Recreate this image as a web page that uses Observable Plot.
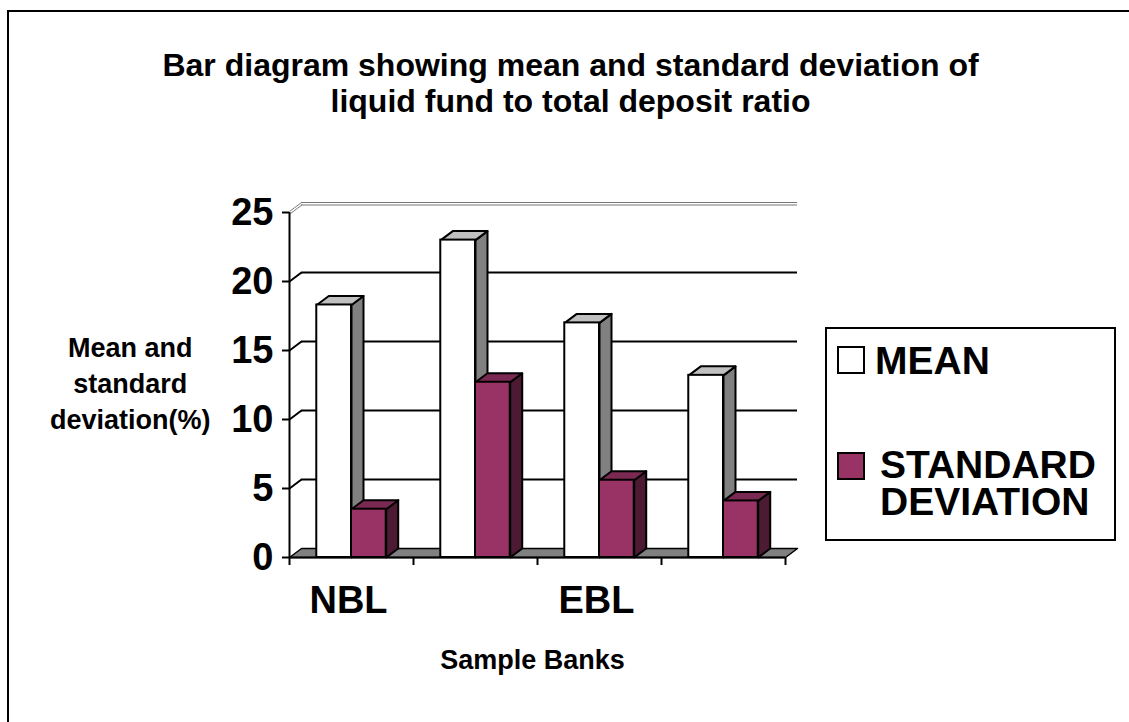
<!DOCTYPE html>
<html><head><meta charset="utf-8">
<script src="https://cdn.jsdelivr.net/npm/d3@7"></script>
<script src="https://cdn.jsdelivr.net/npm/@observablehq/plot@0.6"></script>
<style>
html,body{margin:0;padding:0;background:#fff;}
#wrap{position:relative;width:1129px;height:722px;overflow:hidden;background:#fff;}
#chart{position:absolute;left:0;top:0;}
#frame{position:absolute;left:7px;top:10px;width:1200px;height:800px;border-left:2px solid #000;border-top:2px solid #000;pointer-events:none;}
</style></head><body>
<div id="wrap"><div id="chart"></div><div id="frame"></div></div>
<script>
// ---- data ----
const banks = ["NBL", "Bank 2", "EBL", "Bank 4"];
const categoryLabels = ["NBL", "", "EBL", ""];
const meanValues = [18.3, 23.0, 17.0, 13.2];
const sdValues = [3.5, 12.7, 5.6, 4.1];
const seriesNames = ["MEAN", "STANDARD DEVIATION"];
const yTicks = [0, 5, 10, 15, 20, 25];
const titleText = "Bar diagram showing mean and standard deviation of\nliquid fund to total deposit ratio";
const yLabel = "Mean and\nstandard\ndeviation(%)";
const xLabel = "Sample Banks";

// ---- style / layout ----
const styles = [
  {front: "#ffffff", top: "#c0c0c0", side: "#808080"},
  {front: "#993366", top: "#7a2952", side: "#4d1a33"}
];
const n = banks.length;
const DX = 12 / 124, DY = 9 / 13.8;   // depth offset in scale units
const TICK = 8 / 13.8;                // x tick length in scale units
const barOff = [0.22, 0.5], barW = 0.28;
const seriesValues = [meanValues, sdValues];

const bars = [];
seriesValues.forEach((vals, s) => vals.forEach((v, i) => bars.push({bank: banks[i], i, s, v})));

function topFace(d) {
  const x0 = d.i + barOff[d.s], x1 = x0 + barW, v = d.v;
  return [[x0, v], [x1, v], [x1 + DX, v + DY], [x0 + DX, v + DY], [x0, v]]
    .map(([x, y]) => ({x, y, id: `t${d.s}-${d.i}`, s: d.s}));
}
function sideFace(d) {
  const x1 = d.i + barOff[d.s] + barW, v = d.v;
  return [[x1, v], [x1 + DX, v + DY], [x1 + DX, DY], [x1, 0], [x1, v]]
    .map(([x, y]) => ({x, y, id: `s${d.s}-${d.i}`, s: d.s}));
}
const tops = bars.flatMap(topFace);
const sides = bars.flatMap(sideFace);
const floor = [[0, 0], [n, 0], [n + DX, DY], [DX, DY], [0, 0]].map(([x, y]) => ({x, y}));

const legendItems = seriesNames.map((name, s) => ({name, color: styles[s].front,
  lines: name === "STANDARD DEVIATION" ? ["STANDARD", "DEVIATION"] : [name]}));

const legendMark = () => {
  const g = d3.create("svg:g").attr("font-size", 39).attr("font-weight", "bold")
    .attr("fill", "#000").attr("text-anchor", "start");
  g.append("rect").attr("x", 826).attr("y", 328).attr("width", 289).attr("height", 212)
    .attr("fill", "#fff").attr("stroke", "#000").attr("stroke-width", 2);
  const swY = [347, 453], tx = [875, 880], base = [374, 478], lineGap = 37;
  legendItems.forEach((it, k) => {
    g.append("rect").attr("x", 838).attr("y", swY[k]).attr("width", 26).attr("height", 26)
      .attr("fill", it.color).attr("stroke", "#000").attr("stroke-width", 2);
    const t = g.append("text").attr("text-anchor", "start");
    it.lines.forEach((ln, j) => t.append("tspan").attr("x", tx[k]).attr("y", base[k] + j * lineGap).text(ln));
  });
  return g.node();
};

const marks = [
  // floor
  Plot.line(floor, {x: "x", y: "y", fill: "#808080", stroke: "#000", strokeWidth: 1.5}),
  // back wall gridlines
  Plot.ruleY(yTicks.filter(t => t > 0 && t < 25), {y: d => d + DY, x1: DX, x2: n + DX, stroke: "#000", strokeWidth: 2}),
  Plot.ruleY([25], {y: d => d + DY, x1: DX, x2: n + DX, stroke: "#777", strokeWidth: 1, dy: -1}),
  Plot.ruleY([25], {y: d => d + DY, x1: DX, x2: n + DX, stroke: "#777", strokeWidth: 1, dy: 1.5}),
  // side wall diagonals
  Plot.link(yTicks.filter(t => t > 0 && t < 25), {x1: 0, y1: d => d, x2: DX, y2: d => d + DY, stroke: "#000", strokeWidth: 2}),
  Plot.link([25], {x1: 0, y1: d => d, x2: DX, y2: d => d + DY, stroke: "#777", strokeWidth: 1, dy: -1}),
  Plot.link([25], {x1: 0, y1: d => d, x2: DX, y2: d => d + DY, stroke: "#777", strokeWidth: 1, dx: 1, dy: 1}),
  // bar sides, tops, fronts
  ...[0, 1].map(s => Plot.line(sides.filter(d => d.s === s), {x: "x", y: "y", z: "id", fill: styles[s].side, stroke: "#000", strokeWidth: 2})),
  ...[0, 1].map(s => Plot.line(tops.filter(d => d.s === s), {x: "x", y: "y", z: "id", fill: styles[s].top, stroke: "#000", strokeWidth: 2})),
  ...[0, 1].map(s => Plot.rect(bars.filter(d => d.s === s), {x1: d => d.i + barOff[s], x2: d => d.i + barOff[s] + barW, y1: 0, y2: "v", fill: styles[s].front, stroke: "#000", strokeWidth: 2})),
  // axes
  Plot.ruleX([0], {y1: 0, y2: 25, stroke: "#000", strokeWidth: 2}),
  Plot.ruleY([0], {x1: 0, x2: n, stroke: "#000", strokeWidth: 2}),
  Plot.axisY({ticks: yTicks, tickSize: 7, tickPadding: 9, fontSize: 38, strokeWidth: 2, tickFormat: d => d}),
  Plot.ruleX(d3.range(n + 1), {x: d => d, y1: 0, y2: -TICK, stroke: "#000", strokeWidth: 2}),
  Plot.text(categoryLabels, {x: (d, i) => i + 0.5, y: 0, text: d => d, dy: 43, dx: -3, fontSize: 38, textAnchor: "middle"}),
  // titles
  Plot.text([titleText], {text: d => d, frameAnchor: "top", dx: 33, dy: -162, fontSize: 32, lineHeight: 36 / 32, lineAnchor: "top", textAnchor: "middle"}),
  Plot.text([yLabel], {text: d => d, frameAnchor: "left", dx: -159.3, dy: -3.3, fontSize: 27, lineHeight: 36 / 27, lineAnchor: "middle", textAnchor: "middle"}),
  Plot.text([xLabel], {text: d => d, frameAnchor: "bottom", dx: -5, dy: 111, fontSize: 27, lineAnchor: "bottom", textAnchor: "middle"}),
  legendMark
];

const chart = Plot.plot({
  width: 1129, height: 722,
  marginTop: 212, marginBottom: 165, marginLeft: 289, marginRight: 344,
  x: {type: "linear", domain: [0, n], axis: null},
  y: {type: "linear", domain: [0, 25], axis: null},
  style: {fontFamily: "'Liberation Sans', Arial, sans-serif", fontWeight: "bold", color: "#000", background: "transparent", overflow: "visible"},
  marks
});
document.getElementById("chart").appendChild(chart);
</script>
</body></html>
